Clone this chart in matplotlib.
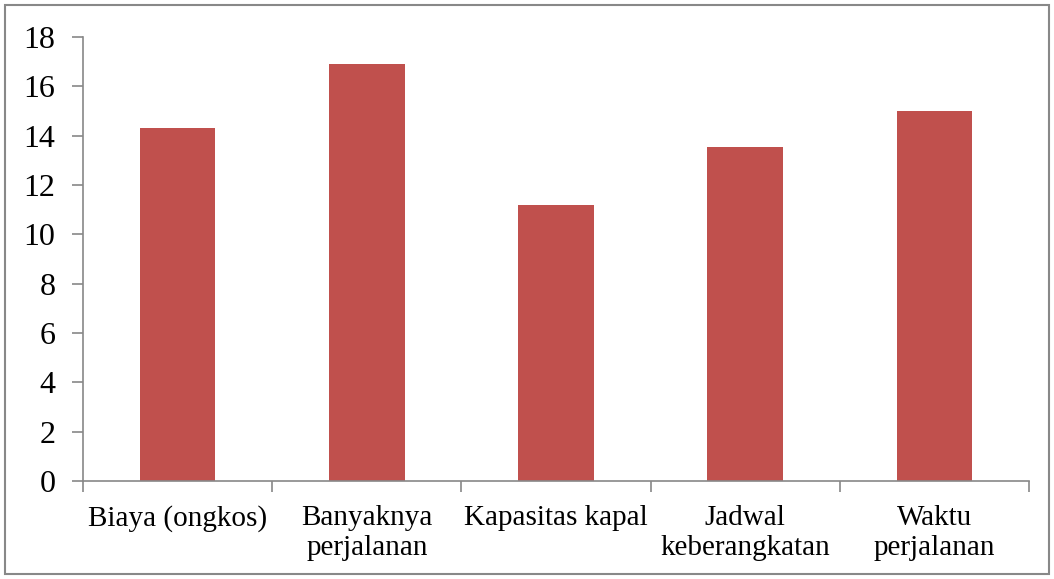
#!/usr/bin/env python3
import matplotlib.pyplot as plt
import numpy as np
from matplotlib.patches import Rectangle

plt.switch_backend('agg')

categories = ["Biaya (ongkos)", "Banyaknya\nperjalanan", "Kapasitas kapal",
              "Jadwal\nkeberangkatan", "Waktu\nperjalanan"]
values = [14.3, 16.9, 11.2, 13.55, 15.0]
yticks = [0, 2, 4, 6, 8, 10, 12, 14, 16, 18]

plt.rcParams['font.family'] = ['Liberation Serif', 'DejaVu Serif']
gray = "#888888"

fig = plt.figure(figsize=(10.54, 5.79), dpi=100)
ax = fig.add_axes([0.0788, 0.1693, 0.8975, 0.7667])

x = np.arange(len(categories))
ax.bar(x, values, width=0.4, color="#C0504D", edgecolor="none")

ax.set_xlim(-0.5, len(categories) - 0.5)
ax.set_ylim(0, 18)
ax.set_yticks(yticks)
ax.tick_params(axis='y', labelsize=23, length=8, color=gray, width=1.2, pad=12)

ax.set_xticks(x)
ax.set_xticklabels(categories, fontsize=21, linespacing=1.2)
ax.tick_params(axis='x', which='major', length=0, pad=17)
ax.set_xticks(np.arange(len(categories) + 1) - 0.5, minor=True)
ax.tick_params(axis='x', which='minor', length=8, color=gray, width=1.2)

for s in ["top", "right"]:
    ax.spines[s].set_visible(False)
for s in ["left", "bottom"]:
    ax.spines[s].set_color(gray)
    ax.spines[s].set_linewidth(1.2)

fig.patches.append(Rectangle((0.005, 0.008), 0.99, 0.984, transform=fig.transFigure,
                             fill=False, edgecolor=gray, linewidth=1.5))

fig.savefig("out.png", dpi=100)
